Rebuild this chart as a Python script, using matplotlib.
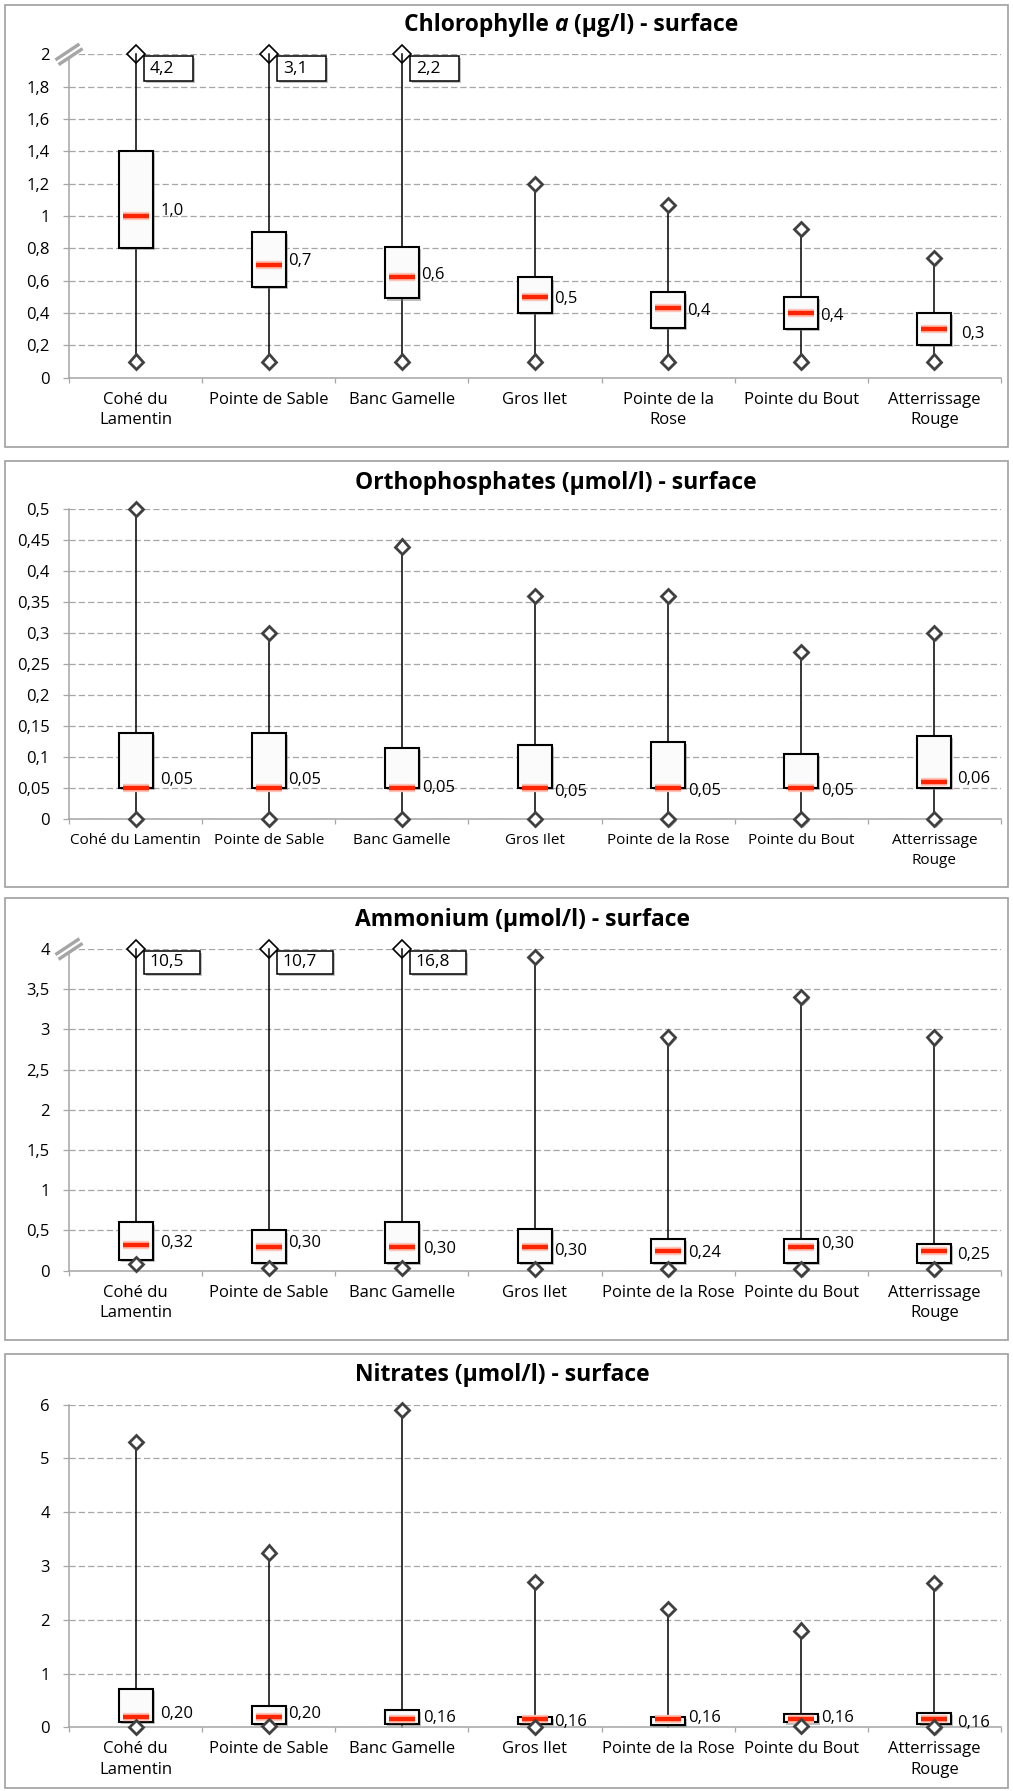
import numpy as np
import matplotlib
matplotlib.use("Agg")
import matplotlib.pyplot as plt
import matplotlib.patheffects as pe
import matplotlib.transforms as mtrans
from matplotlib.patches import Rectangle

plt.rcParams["font.family"] = ["Open Sans", "DejaVu Sans"]
plt.rcParams["lines.scale_dashes"] = False

# station names as printed under each chart
labels_chl = ["Cohé du\nLamentin", "Pointe de Sable", "Banc Gamelle", "Gros Ilet",
              "Pointe de la\nRose", "Pointe du Bout", "Atterrissage\nRouge"]
labels_po4 = ["Cohé du Lamentin", "Pointe de Sable", "Banc Gamelle", "Gros Ilet",
              "Pointe de la Rose", "Pointe du Bout", "Atterrissage\nRouge"]
labels_n = ["Cohé du\nLamentin", "Pointe de Sable", "Banc Gamelle", "Gros Ilet",
            "Pointe de la Rose", "Pointe du Bout", "Atterrissage\nRouge"]

# Chlorophylle a (µg/l)
chl_min = [0.1, 0.1, 0.1, 0.1, 0.1, 0.1, 0.1]
chl_q1 = [0.80, 0.56, 0.49, 0.40, 0.31, 0.30, 0.20]
chl_med = [1.0, 0.7, 0.62, 0.5, 0.43, 0.4, 0.3]
chl_q3 = [1.40, 0.90, 0.81, 0.62, 0.53, 0.50, 0.40]
chl_max = [4.2, 3.1, 2.2, 1.20, 1.07, 0.92, 0.74]

# Orthophosphates (µmol/l)
po4_min = [0.0, 0.0, 0.0, 0.0, 0.0, 0.0, 0.0]
po4_q1 = [0.05, 0.05, 0.05, 0.05, 0.05, 0.05, 0.05]
po4_med = [0.05, 0.05, 0.05, 0.05, 0.05, 0.05, 0.06]
po4_q3 = [0.14, 0.14, 0.115, 0.12, 0.125, 0.105, 0.135]
po4_max = [0.50, 0.30, 0.44, 0.36, 0.36, 0.27, 0.30]

# Ammonium (µmol/l)
nh4_min = [0.08, 0.03, 0.03, 0.02, 0.02, 0.02, 0.02]
nh4_q1 = [0.13, 0.10, 0.10, 0.10, 0.10, 0.10, 0.10]
nh4_med = [0.32, 0.30, 0.30, 0.30, 0.24, 0.30, 0.25]
nh4_q3 = [0.60, 0.50, 0.61, 0.52, 0.39, 0.39, 0.33]
nh4_max = [10.5, 10.7, 16.8, 3.9, 2.9, 3.4, 2.9]

# Nitrates (µmol/l)
no3_min = [0.0, 0.03, 0.0, 0.0, 0.0, 0.03, 0.0]
no3_min_marker = [True, True, False, True, False, True, True]
no3_q1 = [0.10, 0.07, 0.06, 0.055, 0.05, 0.09, 0.055]
no3_med = [0.20, 0.20, 0.16, 0.16, 0.16, 0.16, 0.16]
no3_q3 = [0.72, 0.40, 0.32, 0.20, 0.20, 0.25, 0.26]
no3_max = [5.3, 3.25, 5.9, 2.7, 2.2, 1.8, 2.68]

W, H = 1013, 1791
GRID = "#a6a6a6"
AX_L, AX_R = 69, 1001
FRAME_L, FRAME_R = 5, 1008
BOX_W = 0.255
MED_W = 0.195
FS = 12

# hand-placed median labels (pixel nudges, x then y)
nudge_chl = [(8, 5), (2, 4), (2, 2), (2, -2), (2, -3), (2, -3), (10, -5)]
nudge_po4 = [(8, 8), (2, 8), (3, 0), (2, -4), (3, -3), (3, -3), (6, 3)]
nudge_nh4 = [(8, 2), (2, 4), (4, -2), (2, -4), (3, -2), (3, 3), (6, -4)]
nudge_no3 = [(8, 3), (2, 3), (4, 1), (2, -3), (3, 1), (3, 1), (6, -4)]

panels = [
    dict(title=[("Chlorophylle ", "normal"), ("a", "italic"), (" (µg/l) - surface", "normal")],
         tx=404, ty=25, top=54.3, bot=377.7, ymax=2.0, ystep=0.2, dec=1,
         xlabels=labels_chl, xfs=FS, frame=(4.7, 447), nudge=nudge_chl,
         vals=(chl_min, chl_q1, chl_med, chl_q3, chl_max), min_marker=None),
    dict(title=[("Orthophosphates (µmol/l) - surface", "normal")],
         tx=355, ty=483, top=509.3, bot=819.3, ymax=0.5, ystep=0.05, dec=2,
         xlabels=labels_po4, xfs=11, frame=(460.7, 886.7), nudge=nudge_po4,
         vals=(po4_min, po4_q1, po4_med, po4_q3, po4_max), min_marker=None),
    dict(title=[("Ammonium (µmol/l) - surface", "normal")],
         tx=355, ty=920, top=949, bot=1270.7, ymax=4.0, ystep=0.5, dec=2,
         xlabels=labels_n, xfs=FS, frame=(898.3, 1340), nudge=nudge_nh4,
         vals=(nh4_min, nh4_q1, nh4_med, nh4_q3, nh4_max), min_marker=None),
    dict(title=[("Nitrates (µmol/l) - surface", "normal")],
         tx=355, ty=1375, top=1404.7, bot=1727.3, ymax=6.0, ystep=1.0, dec=2,
         xlabels=labels_n, xfs=FS, frame=(1354, 1788), nudge=nudge_no3,
         vals=(no3_min, no3_q1, no3_med, no3_q3, no3_max), min_marker=no3_min_marker),
]

fig = plt.figure(figsize=(W / 100, H / 100), dpi=100)
renderer = fig.canvas.get_renderer()

box_shadow = [pe.SimplePatchShadow(offset=(1.5, -1.5), shadow_rgbFace="#7a7a7a", alpha=0.45), pe.Normal()]
dot_shadow = [pe.SimplePatchShadow(offset=(1, -1), shadow_rgbFace="#6a6a6a", alpha=0.6), pe.Normal()]


def fmt(v, dec):
    return f"{v:.{dec}f}".replace(".", ",")


def shift(ax, x, y, dx, dy):
    # move a data point by a number of pixels
    X, Y = ax.transData.transform((x, y))
    return ax.transData.inverted().transform((X + dx, Y + dy))


def draw_panel(p):
    ax = fig.add_axes([AX_L / W, 1 - p["bot"] / H, (AX_R - AX_L) / W, (p["bot"] - p["top"]) / H])
    n = len(p["xlabels"])
    xs = np.arange(n)
    ymax = p["ymax"]
    ax.set_xlim(-0.5, n - 0.5)
    ax.set_ylim(0, ymax)

    ticks = np.round(np.arange(0, ymax + p["ystep"] / 2, p["ystep"]), 3)
    ax.set_yticks(ticks)
    ax.set_yticklabels([f"{t:g}".replace(".", ",") for t in ticks], fontsize=FS)
    ax.set_xticks(np.arange(-0.5, n, 1.0))
    ax.set_xticklabels([])
    ax.set_xticks(xs, minor=True)
    ax.set_xticklabels(p["xlabels"], minor=True, fontsize=p["xfs"], linespacing=1.4)
    ax.tick_params(axis="x", which="major", length=3.6, width=0.9, color=GRID)
    ax.tick_params(axis="x", which="minor", length=0, pad=10)
    ax.tick_params(axis="y", length=4.3, width=0.9, color=GRID, pad=9.5)
    ax.grid(axis="y", color=GRID, lw=0.9, linestyle=(0, (4.5, 2.2)))
    ax.set_axisbelow(True)
    for s in ("top", "right"):
        ax.spines[s].set_visible(False)
    for s in ("left", "bottom"):
        ax.spines[s].set_color(GRID)
        ax.spines[s].set_linewidth(1.1)

    mins, q1s, meds, q3s, maxs = p["vals"]
    for i in range(n):
        capped = maxs[i] > ymax
        hi = ymax if capped else maxs[i]
        ax.plot([i, i], [mins[i], hi], color="black", lw=1.1, zorder=2.2, clip_on=False)
        ax.add_patch(Rectangle((i - BOX_W / 2, q1s[i]), BOX_W, q3s[i] - q1s[i],
                               fc="#fbfbfb", ec="black", lw=1.5, zorder=3,
                               path_effects=box_shadow))
        ax.plot([i - MED_W / 2, i + MED_W / 2], [meds[i], meds[i]], color="#ff2400",
                lw=3.2, solid_capstyle="butt", zorder=4,
                path_effects=[pe.Stroke(linewidth=6, foreground="#ffc4b8"), pe.Normal()])
        dx, dy = p["nudge"][i]
        ax.annotate(fmt(meds[i], p["dec"]), (i + BOX_W / 2, meds[i]), xytext=(dx, dy),
                    textcoords="offset pixels", ha="left", va="center", fontsize=FS, zorder=5)

        show_min = p["min_marker"] is None or p["min_marker"][i]
        if show_min:
            ax.plot(i, mins[i], "D", ms=7.2, mfc="white", mec="#404040", mew=2.0,
                    zorder=4.5, clip_on=False, path_effects=dot_shadow)
        if capped:
            ax.plot(i, hi, "D", ms=9.5, mfc="white", mec="black", mew=1.2,
                    zorder=2.1, clip_on=False)
            bw, bh = (56, 23) if p["dec"] == 2 else (49, 25)
            x0, y1 = shift(ax, i, ymax, 8, -2)
            x1, y0 = shift(ax, i, ymax, 8 + bw, -2 - bh)
            ax.add_patch(Rectangle((x0, y0), x1 - x0, y1 - y0, fc="white", ec="black", lw=1.1,
                                   zorder=6, clip_on=False, path_effects=box_shadow))
            tx, _ = shift(ax, x0, 0, 6, 0)
            ax.text(tx, (y0 + y1) / 2, fmt(maxs[i], 1), ha="left", va="center",
                    fontsize=12.5, zorder=7, clip_on=False)
        else:
            ax.plot(i, hi, "D", ms=7.2, mfc="white", mec="#404040", mew=2.0,
                    zorder=4.5, clip_on=False, path_effects=dot_shadow)

    # axis break mark on capped charts
    if any(m > ymax for m in maxs):
        corner = mtrans.Affine2D() + mtrans.ScaledTranslation(0, 1, ax.transAxes)
        ax.plot([-12, 12], [-8, 8], color=GRID, lw=6.5, transform=corner, clip_on=False,
                solid_capstyle="butt", zorder=6)
        ax.plot([-13, 13], [-8.6, 8.6], color="white", lw=1.6, transform=corner, clip_on=False,
                solid_capstyle="butt", zorder=6.1)

    # title, with italic pieces where needed
    x = p["tx"]
    for txt, style in p["title"]:
        t = fig.text(x / W, 1 - p["ty"] / H, txt, fontsize=16.5, fontweight="bold",
                     style=style, ha="left", va="center")
        x += t.get_window_extent(renderer).width

    ft, fb = p["frame"]
    fig.add_artist(Rectangle((FRAME_L / W, 1 - fb / H), (FRAME_R - FRAME_L) / W, (fb - ft) / H,
                             transform=fig.transFigure, fill=False, ec="#a0a0a0", lw=1.2))
    return ax


for p in panels:
    draw_panel(p)

fig.savefig("out.png", dpi=100, facecolor="white")
